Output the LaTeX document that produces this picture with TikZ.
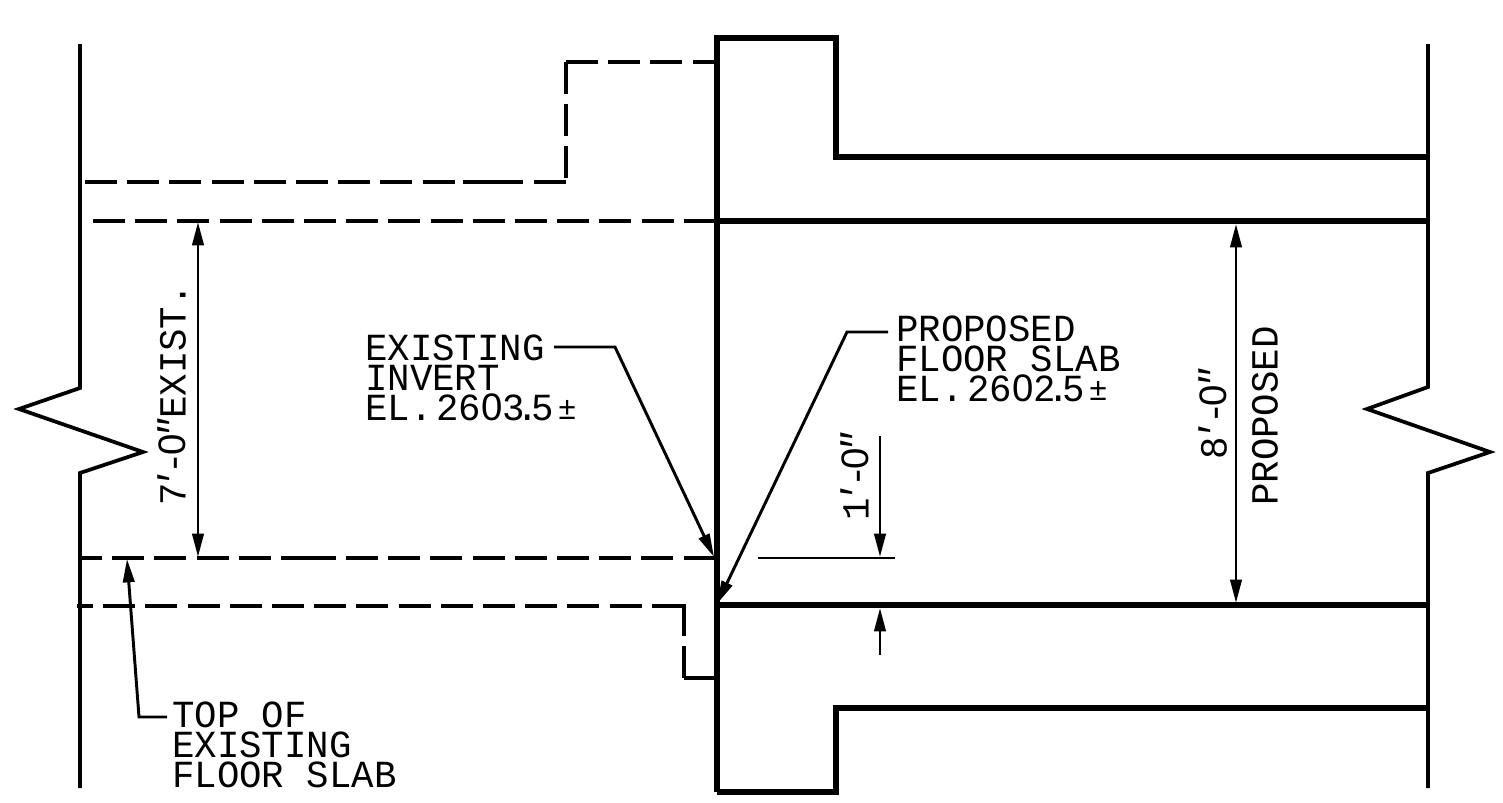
\documentclass[tikz,border=0pt]{standalone}
\usepackage{fontspec}
\usepackage{tikz}
\usetikzlibrary{arrows.meta}
\newfontfamily\cadfont[FakeStretch=0.975]{Liberation Mono}
\newfontfamily\zerofont{Liberation Sans}
\newcommand{\ft}{{\itshape'}}
\newcommand{\inch}{{\itshape"}}
\newcommand{\zr}{{\zerofont 0}}
\newcommand{\plmn}{\raisebox{1pt}{\fontsize{24}{24}\selectfont ±}}
\tikzset{
    >={Triangle[length=17.5pt,width=8.5pt]},
    wall/.style={line width=2.8pt},
    slab/.style={line width=3.9pt},
    hidden/.style={line width=3pt,dash pattern=on 24pt off 7.65pt},
    hiddenfill/.style={line width=3pt},
    leader/.style={line width=2.2pt},
    lbl/.style={font=\cadfont\fontsize{28.75}{22.5}\selectfont,align=left,
	anchor=north west,inner sep=0pt},
    dim/.style={font=\cadfont\fontsize{28.75}{22.5}\selectfont,rotate=90,
	inner sep=0pt},
}
\begin{document}
\begin{tikzpicture}[x=0.75pt,y=-0.75pt]
    \useasboundingbox (0,0) rectangle (1503,803);

    \draw [wall] (80,44) -- (80,388) -- (19,409) -- (143,452) -- (80,473)
	-- (80,788);
    \draw [wall] (1428,44) -- (1428,387) -- (1367,409) -- (1490,452)
	-- (1428,473) -- (1428,788);

    \draw [slab] (717,792) -- (717,38) -- (836,38) -- (836,157) -- (1428,157);
    \draw [slab] (717,221) -- (1428,221);
    \draw [slab] (717,605) -- (1428,605);
    \draw [slab] (717,792) -- (836,792) -- (836,708) -- (1428,708);

    \draw [hidden] (566,62) -- (717,62);
    \draw [hidden] (566,62) -- (566,182);
    \draw [hidden] (85,182) -- (463,182);
    \draw [hiddenfill] (463,182) -- (523,182);
    \draw [hiddenfill] (534,182) -- (566,182);
    \draw [hidden] (93,221) -- (717,221);
    \draw [hidden,dash phase=7.5pt] (80,558) -- (282,558);
    \draw [hiddenfill] (282,558) -- (336,558);
    \draw [hidden] (346,558) -- (717,558);
    \draw [hidden,dash phase=12pt] (77,606) -- (684,606);
    \draw [hidden] (684,604) -- (684,680);
    \draw [hiddenfill] (684,678) -- (717,678);

    \path (365,335) node [lbl] (exinv) {EXISTING\\INVERT\\EL.\kern-14pt{} 26\zr3\kern-6pt.\kern-6pt5\kern3pt\plmn};
    \path (896,316) node [lbl] (prflr) {PROPOSED\\FLOOR SLAB\\EL.\kern-14pt{} 26\zr2\kern-6pt.\kern-6pt5\kern3pt\plmn};
    \path (172,702) node [lbl] (topex) {TOP OF\\EXISTING\\FLOOR SLAB};

    \path (172,395) node [dim] (exh) {7\kern-6pt\ft\kern-4pt-\kern-3pt\zr\kern-4pt\inch\kern-1pt EXIST.};
    \path (855,476) node [dim] (oneft) {1\kern-5pt\ft\kern-4pt-\kern-3pt\zr\kern-4pt\inch};
    \path (1213,413) node [dim] (prh) {8\kern-5pt\ft\kern-3pt-\kern-3pt\zr\kern-3pt\inch};
    \path (1265,416) node [dim] (prt) {PROPOSED};

    \path (554,347) coordinate (exa) (615,347) coordinate (exb)
	(714,557) coordinate (exc);
    \draw [->,leader] (exa) -- (exb) -- (exc);
    \path (888,332) coordinate (pra) (847,332) coordinate (prb)
	(717,604) coordinate (prc);
    \draw [->,leader] (pra) -- (prb) -- (prc);
    \path (167,717) coordinate (toa) (139,717) coordinate (tob)
	(127,559) coordinate (toc);
    \draw [->,leader] (toa) -- (tob) -- (toc);

    \path (198,222) coordinate (dea) (198,557) coordinate (deb);
    \draw [<->,leader] (dea) -- (deb);
    \path (1236,224) coordinate (dpa) (1236,603) coordinate (dpb);
    \draw [<->,leader] (dpa) -- (dpb);

    \path (880,436) coordinate (ona) (880,557) coordinate (onb)
	(880,655) coordinate (onc) (880,608) coordinate (ond);
    \draw [->,leader] (ona) -- (onb);
    \draw [->,leader] (onc) -- (ond);
    \path (758,558) coordinate (tka) (895,558) coordinate (tkb);
    \draw [leader] (tka) -- (tkb);
\end{tikzpicture}
\end{document}
